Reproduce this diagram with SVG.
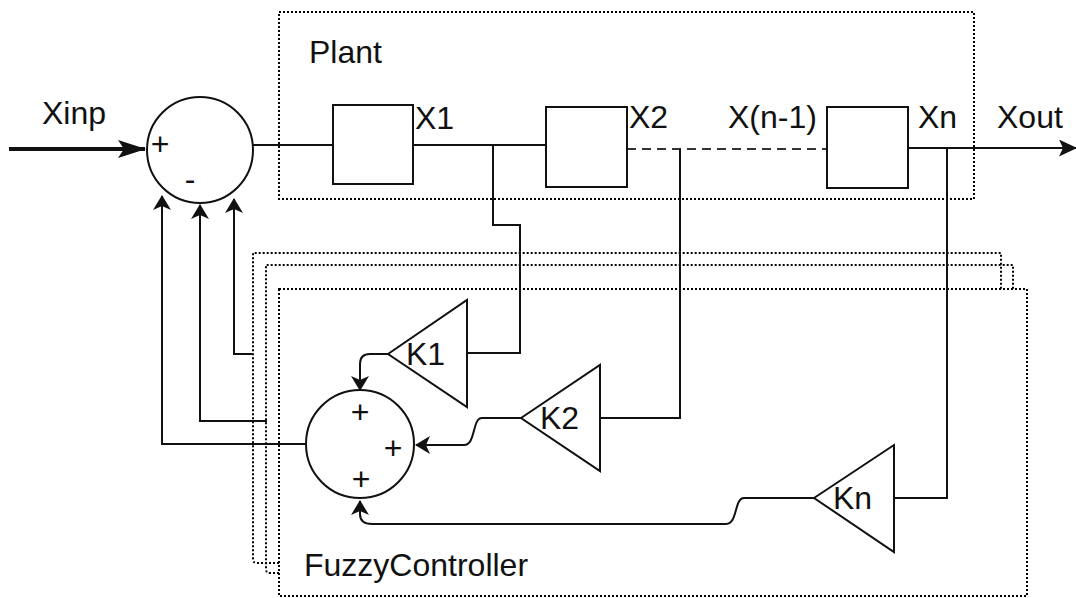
<svg xmlns="http://www.w3.org/2000/svg" width="1076" height="598" viewBox="0 0 1076 598">
  <style>
    .t { font-family: "Liberation Sans", Arial, Helvetica, sans-serif; font-size: 32px; fill: #111; }
    .s { font-family: "Liberation Sans", Arial, Helvetica, sans-serif; font-size: 32px; fill: #111; text-anchor: middle; }
    .box { fill: #fff; stroke: #111; stroke-width: 2; }
    .frame { fill: none; stroke: #000; stroke-width: 2; stroke-dasharray: 2 2; }
    .w { fill: none; stroke: #111; stroke-width: 2; }
    .wa { fill: none; stroke: #111; stroke-width: 2; marker-end: url(#arr); }
  </style>
  <defs>
    <marker id="arr" viewBox="0 0 15 18" refX="14" refY="9" markerWidth="15" markerHeight="18" markerUnits="userSpaceOnUse" orient="auto">
      <path d="M0,0 L15,9 L0,18 L4,9 z" fill="#111"/>
    </marker>
    <marker id="arrBig" viewBox="0 0 28 18" refX="27" refY="9" markerWidth="28" markerHeight="18" markerUnits="userSpaceOnUse" orient="auto">
      <path d="M0,0 L28,9 L0,18 L6,9 z" fill="#111"/>
    </marker>
    <marker id="arrOut" viewBox="0 0 18 17" refX="17" refY="8.5" markerWidth="18" markerHeight="17" markerUnits="userSpaceOnUse" orient="auto">
      <path d="M0,0 L18,8.5 L0,17 L4,8.5 z" fill="#111"/>
    </marker>
  </defs>

  <!-- Frames -->
  <g id="plant">
    <rect class="frame" x="279" y="12" width="695" height="187"/>
    <text class="t" x="309" y="63">Plant</text>
  </g>
  <g id="fuzzy-controller">
    <path class="frame" d="M279,563 L257,563 Q253,563 253,559 L253,253 L1001,253 L1001,289"/>
    <path class="frame" d="M279,573 L270,573 Q266,573 266,569 L266,265 L1013,265 L1013,289"/>
    <rect class="frame" x="279" y="289" width="748" height="307"/>
    <text class="t" x="304" y="576">FuzzyController</text>
  </g>

  <!-- Connectors -->
  <g id="connectors">
    <path d="M9,149 L145,149" fill="none" stroke="#111" stroke-width="4" marker-end="url(#arrBig)"/>
    <path class="w" d="M253,145 L333,145"/>
    <path class="w" d="M413,145 L546,145"/>
    <path d="M627,149 L827,149" fill="none" stroke="#333" stroke-width="2" stroke-dasharray="9 6"/>
    <path d="M908,148 L1076,148" fill="none" stroke="#111" stroke-width="2" marker-end="url(#arrOut)"/>
    <!-- taps -->
    <path class="w" d="M493,145 L493,225 L520,225 L520,353 L467,353"/>
    <path class="w" d="M680,149 L680,418 L600,418"/>
    <path class="w" d="M947,148 L947,498 L894,498"/>
    <!-- gains to sum -->
    <path class="wa" d="M388,354 L370,354 Q360,354 360,364 L360,390"/>
    <path class="wa" d="M521,418 L482,418 C472,418 476,445 464,445 L416,445"/>
    <path class="wa" d="M814,498 L744,498 C734,498 738,524 726,524 L372,524 Q360,524 360,514 L360,501"/>
    <!-- feedback -->
    <path class="wa" d="M306,444 L162,444 L162,196"/>
    <path class="wa" d="M267,421 L200,421 L200,205"/>
    <path class="wa" d="M253,354 L234,354 L234,199"/>
  </g>

  <!-- Nodes -->
  <g id="sum1">
    <circle class="box" cx="200" cy="150" r="53"/>
    <text class="s" x="160" y="155">+</text>
    <text class="s" x="190" y="190">-</text>
  </g>
  <g id="block1">
    <rect class="box" x="333" y="105" width="80" height="79"/>
  </g>
  <g id="block2">
    <rect class="box" x="546" y="107" width="81" height="80"/>
  </g>
  <g id="blockn">
    <rect class="box" x="827" y="107" width="81" height="81"/>
  </g>
  <g id="labels">
    <text class="t" x="42" y="124">Xinp</text>
    <text class="t" x="415" y="129">X1</text>
    <text class="t" x="629" y="128">X2</text>
    <text class="t" x="728" y="128">X(n-1)</text>
    <text class="t" x="918" y="128">Xn</text>
    <text class="t" x="997" y="128">Xout</text>
  </g>
  <g id="k1">
    <polygon class="box" points="388,354 467,300 467,407"/>
    <text class="t" x="406" y="365">K1</text>
  </g>
  <g id="k2">
    <polygon class="box" points="521,418 600,365 600,471"/>
    <text class="t" x="540" y="429">K2</text>
  </g>
  <g id="kn">
    <polygon class="box" points="814,498 894,445 894,552"/>
    <text class="t" x="833" y="509">Kn</text>
  </g>
  <g id="sum2">
    <circle class="box" cx="360" cy="444" r="54"/>
    <text class="s" x="360" y="423">+</text>
    <text class="s" x="393" y="459">+</text>
    <text class="s" x="361" y="490">+</text>
  </g>
</svg>
